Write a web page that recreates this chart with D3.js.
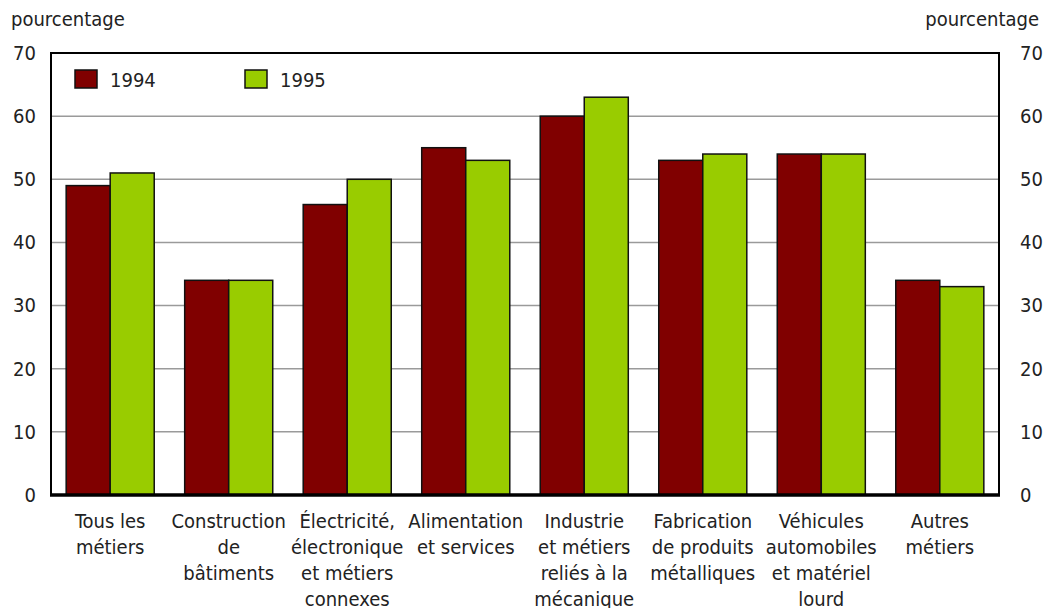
<!DOCTYPE html>
<html>
<head>
<meta charset="utf-8">
<script src="https://cdnjs.cloudflare.com/ajax/libs/d3/7.8.5/d3.min.js"></script>
<style>
  body { margin: 0; background: #fff; }
  text { font-family: "Liberation Sans Narrow", "DejaVu Sans Condensed", "Roboto", sans-serif; font-stretch: condensed; fill: #222; }
</style>
</head>
<body>
<div id="chart"></div>
<script>
// data
var categories = [
  ["Tous les", "métiers"],
  ["Construction", "de", "bâtiments"],
  ["Électricité,", "électronique", "et métiers", "connexes"],
  ["Alimentation", "et services"],
  ["Industrie", "et métiers", "reliés à la", "mécanique"],
  ["Fabrication", "de produits", "métalliques"],
  ["Véhicules", "automobiles", "et matériel", "lourd"],
  ["Autres", "métiers"]
]
var series = ["1994", "1995"]
var values1994 = [49, 34, 46, 55, 60, 53, 54, 34]
var values1995 = [51, 34, 50, 53, 63, 54, 54, 33]
var yTicks = [0, 10, 20, 30, 40, 50, 60, 70]
var colors = ["#800000", "#99cc00"]

var width = 1054, height = 608
var pl = 51, pr = 999, pt = 53, pb = 495
var fs = "20px"

var svg = d3.select("#chart").append("svg")
  .attr("width", width)
  .attr("height", height)

var x0 = d3.scaleBand()
  .domain(d3.range(categories.length))
  .range([pl, pr])
  .paddingInner(0.257)
  .paddingOuter(0.128)

var x1 = d3.scaleBand()
  .domain(series)
  .range([0, x0.bandwidth()])

var y = d3.scaleLinear()
  .domain([0, 70])
  .range([pb, pt])

// gridlines
svg.append("g").selectAll("line").data(yTicks.filter(function(d){ return d > 0 && d < 70 }))
  .enter().append("line")
  .attr("x1", pl).attr("x2", pr)
  .attr("y1", function(d){ return y(d) }).attr("y2", function(d){ return y(d) })
  .attr("stroke", "#9a9a9a")
  .attr("stroke-width", 1.5)

// bars
var rows = categories.map(function(c, i){ return [values1994[i], values1995[i]] })
var grp = svg.append("g").selectAll("g").data(rows).enter().append("g")
  .attr("transform", function(d, i){ return "translate(" + x0(i) + ",0)" })

grp.selectAll("rect").data(function(d){ return d })
  .enter().append("rect")
  .attr("x", function(d, j){ return x1(series[j]) })
  .attr("width", x1.bandwidth())
  .attr("y", function(d){ return y(d) })
  .attr("height", function(d){ return pb - y(d) })
  .attr("fill", function(d, j){ return colors[j] })
  .attr("stroke", "#111")
  .attr("stroke-width", 1.5)

// frame
svg.append("path")
  .attr("d", "M" + pl + "," + pb + "V" + pt + "H" + pr + "V" + pb)
  .attr("fill", "none")
  .attr("stroke", "#000")
  .attr("stroke-width", 2)
svg.append("line")
  .attr("x1", pl - 1).attr("x2", pr + 1)
  .attr("y1", pb).attr("y2", pb)
  .attr("stroke", "#000")
  .attr("stroke-width", 3.5)

// axes
var yAxisL = d3.axisLeft(y).tickValues(yTicks).tickSize(0).tickPadding(15)
var yAxisR = d3.axisRight(y).tickValues(yTicks).tickSize(0).tickPadding(21)

svg.append("g").attr("transform", "translate(" + pl + ",0)").call(yAxisL)
  .call(function(g){ g.select(".domain").remove() })
  .selectAll("text").style("font-size", fs).attr("fill", "#222")
svg.append("g").attr("transform", "translate(" + pr + ",0)").call(yAxisR)
  .call(function(g){ g.select(".domain").remove() })
  .selectAll("text").style("font-size", fs).attr("fill", "#222")

svg.append("text").attr("x", 11).attr("y", 26).style("font-size", fs).text("pourcentage")
svg.append("text").attr("x", 1039).attr("y", 26).attr("text-anchor", "end").style("font-size", fs).text("pourcentage")

// x labels
var lab = svg.append("g").selectAll("text").data(categories).enter().append("text")
  .attr("text-anchor", "middle")
  .style("font-size", fs)
  .attr("transform", function(d, i){ return "translate(" + (x0(i) + x0.bandwidth() / 2) + ",528)" })
lab.selectAll("tspan").data(function(d){ return d }).enter().append("tspan")
  .attr("x", 0)
  .attr("dy", function(d, i){ return i == 0 ? 0 : 26 })
  .text(function(d){ return d })

// legend
var leg = svg.append("g").selectAll("g").data(series).enter().append("g")
  .attr("transform", function(d, i){ return "translate(" + (75 + i * 170) + ",70)" })
leg.append("rect").attr("width", 22).attr("height", 18)
  .attr("fill", function(d, i){ return colors[i] })
  .attr("stroke", "#111").attr("stroke-width", 1.5)
leg.append("text").attr("x", 35).attr("y", 17).style("font-size", fs).text(function(d){ return d })
</script>
</body>
</html>
